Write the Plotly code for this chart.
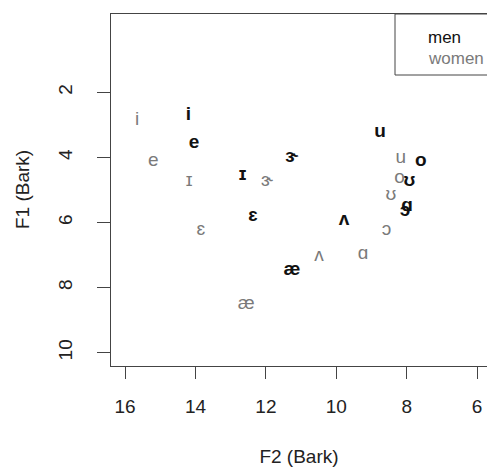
import plotly.graph_objects as go

vowels = ["i", "ɪ", "e", "ɛ", "æ", "ʌ", "ɑ", "ɔ", "o", "ʊ", "u", "ɝ"]
men_F2 = [14.2, 12.66, 14.04, 12.37, 11.26, 9.78, 7.99, 8.05, 7.60, 7.92, 8.76, 11.26]
men_F1 = [2.70, 4.54, 3.57, 5.81, 7.47, 5.93, 5.50, 5.65, 4.11, 4.73, 3.21, 3.98]
women_F2 = [15.66, 14.18, 15.2, 13.85, 12.56, 10.49, 9.24, 8.57, 8.2, 8.45, 8.17, 11.97]
women_F1 = [2.85, 4.72, 4.11, 6.24, 8.51, 7.04, 6.98, 6.24, 4.65, 5.16, 4.03, 4.72]
x_ticks = [16, 14, 12, 10, 8, 6]
y_ticks = [2, 4, 6, 8, 10]
legend_labels = ["men", "women"]
x_title = "F2 (Bark)"
y_title = "F1 (Bark)"

FONT = "Liberation Sans, Arial, DejaVu Sans, sans-serif"
BLACK = "#111111"
GRAY = "#7a7a7a"
LINE = "#444444"

W, H = 487, 468
# plot area in page pixels
PL, PR, PT, PB = 111, 487, 14, 366
PW, PH = PR - PL, PB - PT
PX_PER_UNIT = 35.2

fig = go.Figure()
fig.add_trace(go.Scatter(
    x=women_F2, y=women_F1, text=vowels, mode="text",
    textposition="middle center",
    textfont=dict(family=FONT, size=19, color=GRAY),
    showlegend=False, hoverinfo="skip", cliponaxis=False))
fig.add_trace(go.Scatter(
    x=men_F2, y=men_F1, text=vowels, mode="text",
    textposition="middle center",
    textfont=dict(family=FONT, size=19, color=BLACK, weight="bold"),
    showlegend=False, hoverinfo="skip", cliponaxis=False))

fig.update_layout(
    width=W, height=H,
    margin=dict(l=PL, r=W - PR, t=PT, b=H - PB, autoexpand=False),
    paper_bgcolor="white", plot_bgcolor="white",
    font=dict(family=FONT, size=19, color="#222222"),
    xaxis=dict(
        range=[16.4, 16.4 - PW / PX_PER_UNIT], tickvals=x_ticks, ticktext=[str(v) for v in x_ticks],
        ticks="outside", ticklen=12, tickcolor=LINE, tickwidth=1,
        showline=True, linecolor=LINE, linewidth=1, mirror=True,
        showgrid=False, zeroline=False, automargin=False,
        ticklabelstandoff=11,
        title=dict(text=x_title, standoff=33, font=dict(size=19)),
    ),
    yaxis=dict(
        range=[10.41, -0.41], tickvals=y_ticks, ticktext=[str(v) for v in y_ticks],
        ticks="outside", ticklen=13, tickcolor=LINE, tickwidth=1,
        showline=True, linecolor=LINE, linewidth=1, mirror=False,
        showgrid=False, zeroline=False, tickangle=-90, automargin=False,
        ticklabelstandoff=17,
    ),
)

# y-axis title placed to match the reference position
fig.add_annotation(xref="paper", yref="paper", x=(22 - PL) / PW, y=0.5,
                   text=y_title, textangle=-90, showarrow=False,
                   xanchor="center", yanchor="middle",
                   font=dict(family=FONT, size=19, color="#222222"))

fig.add_shape(type="rect", xref="paper", yref="paper",
              x0=(395 - PL) / PW, x1=1.2, y0=1 - (75 - PT) / PH, y1=1,
              line=dict(color=LINE, width=1), fillcolor="rgba(0,0,0,0)")
fig.add_annotation(xref="paper", yref="paper", x=(426 - PL) / PW, y=1 - (38 - PT) / PH,
                   text=legend_labels[0], showarrow=False, xanchor="left", yanchor="middle",
                   font=dict(family=FONT, size=17, color=BLACK))
fig.add_annotation(xref="paper", yref="paper", x=(426 - PL) / PW, y=1 - (58 - PT) / PH,
                   text=legend_labels[1], showarrow=False, xanchor="left", yanchor="middle",
                   font=dict(family=FONT, size=17, color=GRAY))

fig.write_html("out.html", config={"displayModeBar": False},
               post_script="document.body.style.margin='0';")
